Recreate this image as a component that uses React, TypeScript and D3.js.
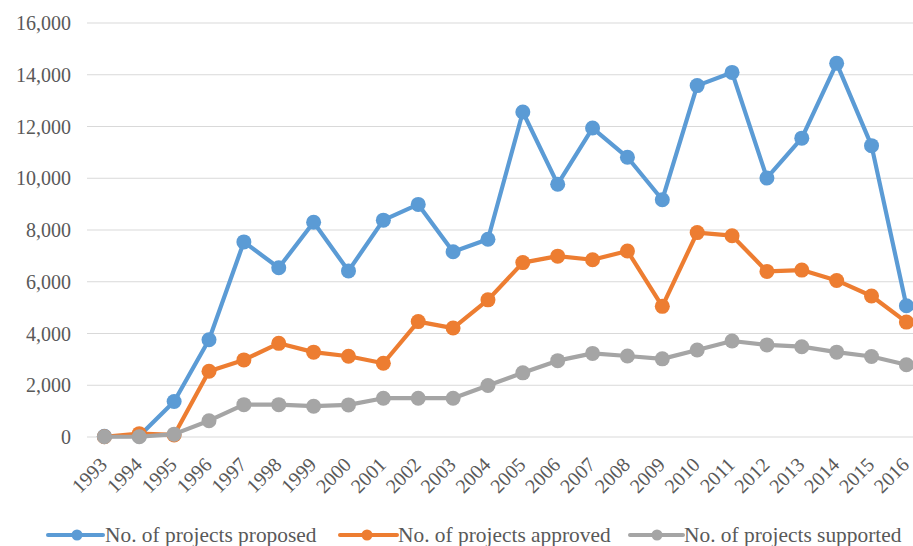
import React from "react";
import * as d3 from "d3";

const years = [
  "1993", "1994", "1995", "1996", "1997", "1998", "1999", "2000", "2001", "2002", "2003", "2004",
  "2005", "2006", "2007", "2008", "2009", "2010", "2011", "2012", "2013", "2014", "2015", "2016",
];

const proposed = [
  30, 40, 1370, 3760, 7540, 6540, 8300, 6420, 8380, 8990, 7160, 7640,
  12560, 9770, 11940, 10810, 9170, 13580, 14090, 10010, 11550, 14440, 11260, 5070,
];

const approved = [
  10, 130, 80, 2540, 2980, 3620, 3280, 3120, 2850, 4460, 4210, 5300,
  6740, 6990, 6850, 7190, 5050, 7900, 7780, 6400, 6450, 6050, 5450, 4440,
];

const supported = [
  10, 10, 110, 630, 1250, 1250, 1190, 1240, 1500, 1500, 1500, 1990,
  2480, 2950, 3230, 3130, 3020, 3360, 3710, 3560, 3490, 3280, 3110, 2790,
];

const yTicks = [0, 2000, 4000, 6000, 8000, 10000, 12000, 14000, 16000];

const seriesNames = [
  "No. of projects proposed",
  "No. of projects approved",
  "No. of projects supported",
];

const colors = ["#5B9BD5", "#ED7D31", "#A5A5A5"];

const W = 913;
const H = 546;
const FONT = "'Liberation Serif', 'Times New Roman', serif";

export default function App() {
  const x = d3.scalePoint<string>().domain(years).range([104.4, 906.4]);
  const y = d3.scaleLinear().domain([0, 16000]).range([437, 23]);

  const line = d3
    .line<number>()
    .x((_, i) => x(years[i]) as number)
    .y((d) => y(d));

  const series = [proposed, approved, supported];
  const fmt = d3.format(",");

  const legendItems = [
    { x1: 48, x2: 103, cx: 77, tx: 105 },
    { x1: 340, x2: 397, cx: 367, tx: 398 },
    { x1: 630, x2: 683, cx: 657, tx: 684 },
  ];

  return (
    <svg
      width={W}
      height={H}
      style={{ position: "absolute", left: 0, top: 0, background: "#fff" }}
      fontFamily={FONT}
    >
      {yTicks.map((t) => (
        <g key={t}>
          <line x1={87} x2={913} y1={y(t)} y2={y(t)} stroke="#D9D9D9" strokeWidth={1} />
          <text
            x={71}
            y={y(t)}
            dy="0.35em"
            textAnchor="end"
            fontSize={20}
            fill="#595959"
          >
            {fmt(t)}
          </text>
        </g>
      ))}

      {years.map((yr) => (
        <text
          key={yr}
          transform={`translate(${(x(yr) as number) - 1},${461}) rotate(-45)`}
          textAnchor="end"
          dy="0.35em"
          fontSize={20}
          fill="#595959"
        >
          {yr}
        </text>
      ))}

      {series.map((s, si) => (
        <g key={si}>
          <path
            d={line(s) || ""}
            fill="none"
            stroke={colors[si]}
            strokeWidth={4.2}
            strokeLinejoin="round"
            strokeLinecap="round"
          />
          {s.map((v, i) => (
            <circle key={i} cx={x(years[i]) as number} cy={y(v)} r={7.5} fill={colors[si]} />
          ))}
        </g>
      ))}

      {legendItems.map((l, i) => (
        <g key={i}>
          <line x1={l.x1} x2={l.x2} y1={535} y2={535} stroke={colors[i]} strokeWidth={4} strokeLinecap="round" />
          <circle cx={l.cx} cy={535} r={5.5} fill={colors[i]} />
          <text x={l.tx} y={535} dy="0.35em" fontSize={21.4} fill="#595959">
            {seriesNames[i]}
          </text>
        </g>
      ))}
    </svg>
  );
}
